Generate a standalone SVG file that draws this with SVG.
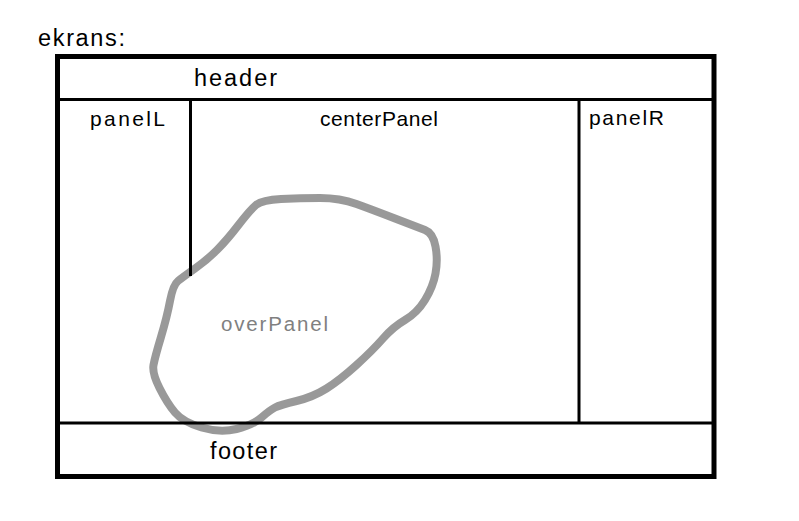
<svg xmlns="http://www.w3.org/2000/svg" width="799" height="521" viewBox="0 0 799 521">
<style>
.t{font-family:"Liberation Sans",Arial,sans-serif;fill:#000}
.big{font-size:23.5px}
.sm{font-size:21px}
.ln{stroke:#000;stroke-width:3;fill:none}
</style>
<rect width="799" height="521" fill="#fff"/>
<g id="screen">
<text class="t big" x="38" y="46" textLength="87" lengthAdjust="spacing">ekrans:</text>
<rect x="57.5" y="56.5" width="656.5" height="420" fill="none" stroke="#000" stroke-width="5"/>
</g>
<g id="connectors">
<line class="ln" x1="57" y1="99.5" x2="714" y2="99.5"/>
<line class="ln" x1="57" y1="423" x2="714" y2="423"/>
<line class="ln" x1="190.5" y1="99" x2="190.5" y2="276"/>
<line class="ln" x1="579" y1="99" x2="579" y2="423"/>
</g>
<g id="header"><text class="t big" x="194" y="86" textLength="83" lengthAdjust="spacing">header</text></g>
<g id="panelL"><text class="t sm" x="90" y="126" textLength="75" lengthAdjust="spacing">panelL</text></g>
<g id="centerPanel"><text class="t sm" x="320" y="126" textLength="118" lengthAdjust="spacing">centerPanel</text></g>
<g id="panelR"><text class="t sm" x="589" y="125" textLength="75" lengthAdjust="spacing">panelR</text></g>
<g id="footer"><text class="t big" x="210" y="459" textLength="67" lengthAdjust="spacing">footer</text></g>
<g id="overPanel">
<path d="M256,205 Q262,200 281,199 Q300,198 320,198 Q340,198 356.5,204 Q373,210 395,218.5 Q417,227 425,230 Q433,233 435.5,246.5 Q438,260 435.5,273.5 Q433,287 425,300 Q417,313 405,320 Q393,327 383,338.5 Q373,350 356.5,365 Q340,380 326.5,388.5 Q313,397 296.5,401 Q280,405 275,407.5 Q270,410 261.5,417.5 Q253,425 236.5,429 Q220,433 201.5,427.5 Q183,422 175,412.5 Q167,403 159.5,388 Q152,373 153.5,365 Q155,357 161,337 Q167,317 170,301 Q173,285 178,281 Q183,277 195,268.5 Q207,260 217,250 Q227,240 238.5,225 Q250,210 256,205 Z" fill="none" stroke="#000" stroke-opacity="0.4" stroke-width="8" stroke-linejoin="round"/>
<text x="221" y="331" textLength="107" lengthAdjust="spacing" style="font-family:'Liberation Sans',Arial,sans-serif;font-size:20.5px;fill:#808080">overPanel</text>
</g>
</svg>
